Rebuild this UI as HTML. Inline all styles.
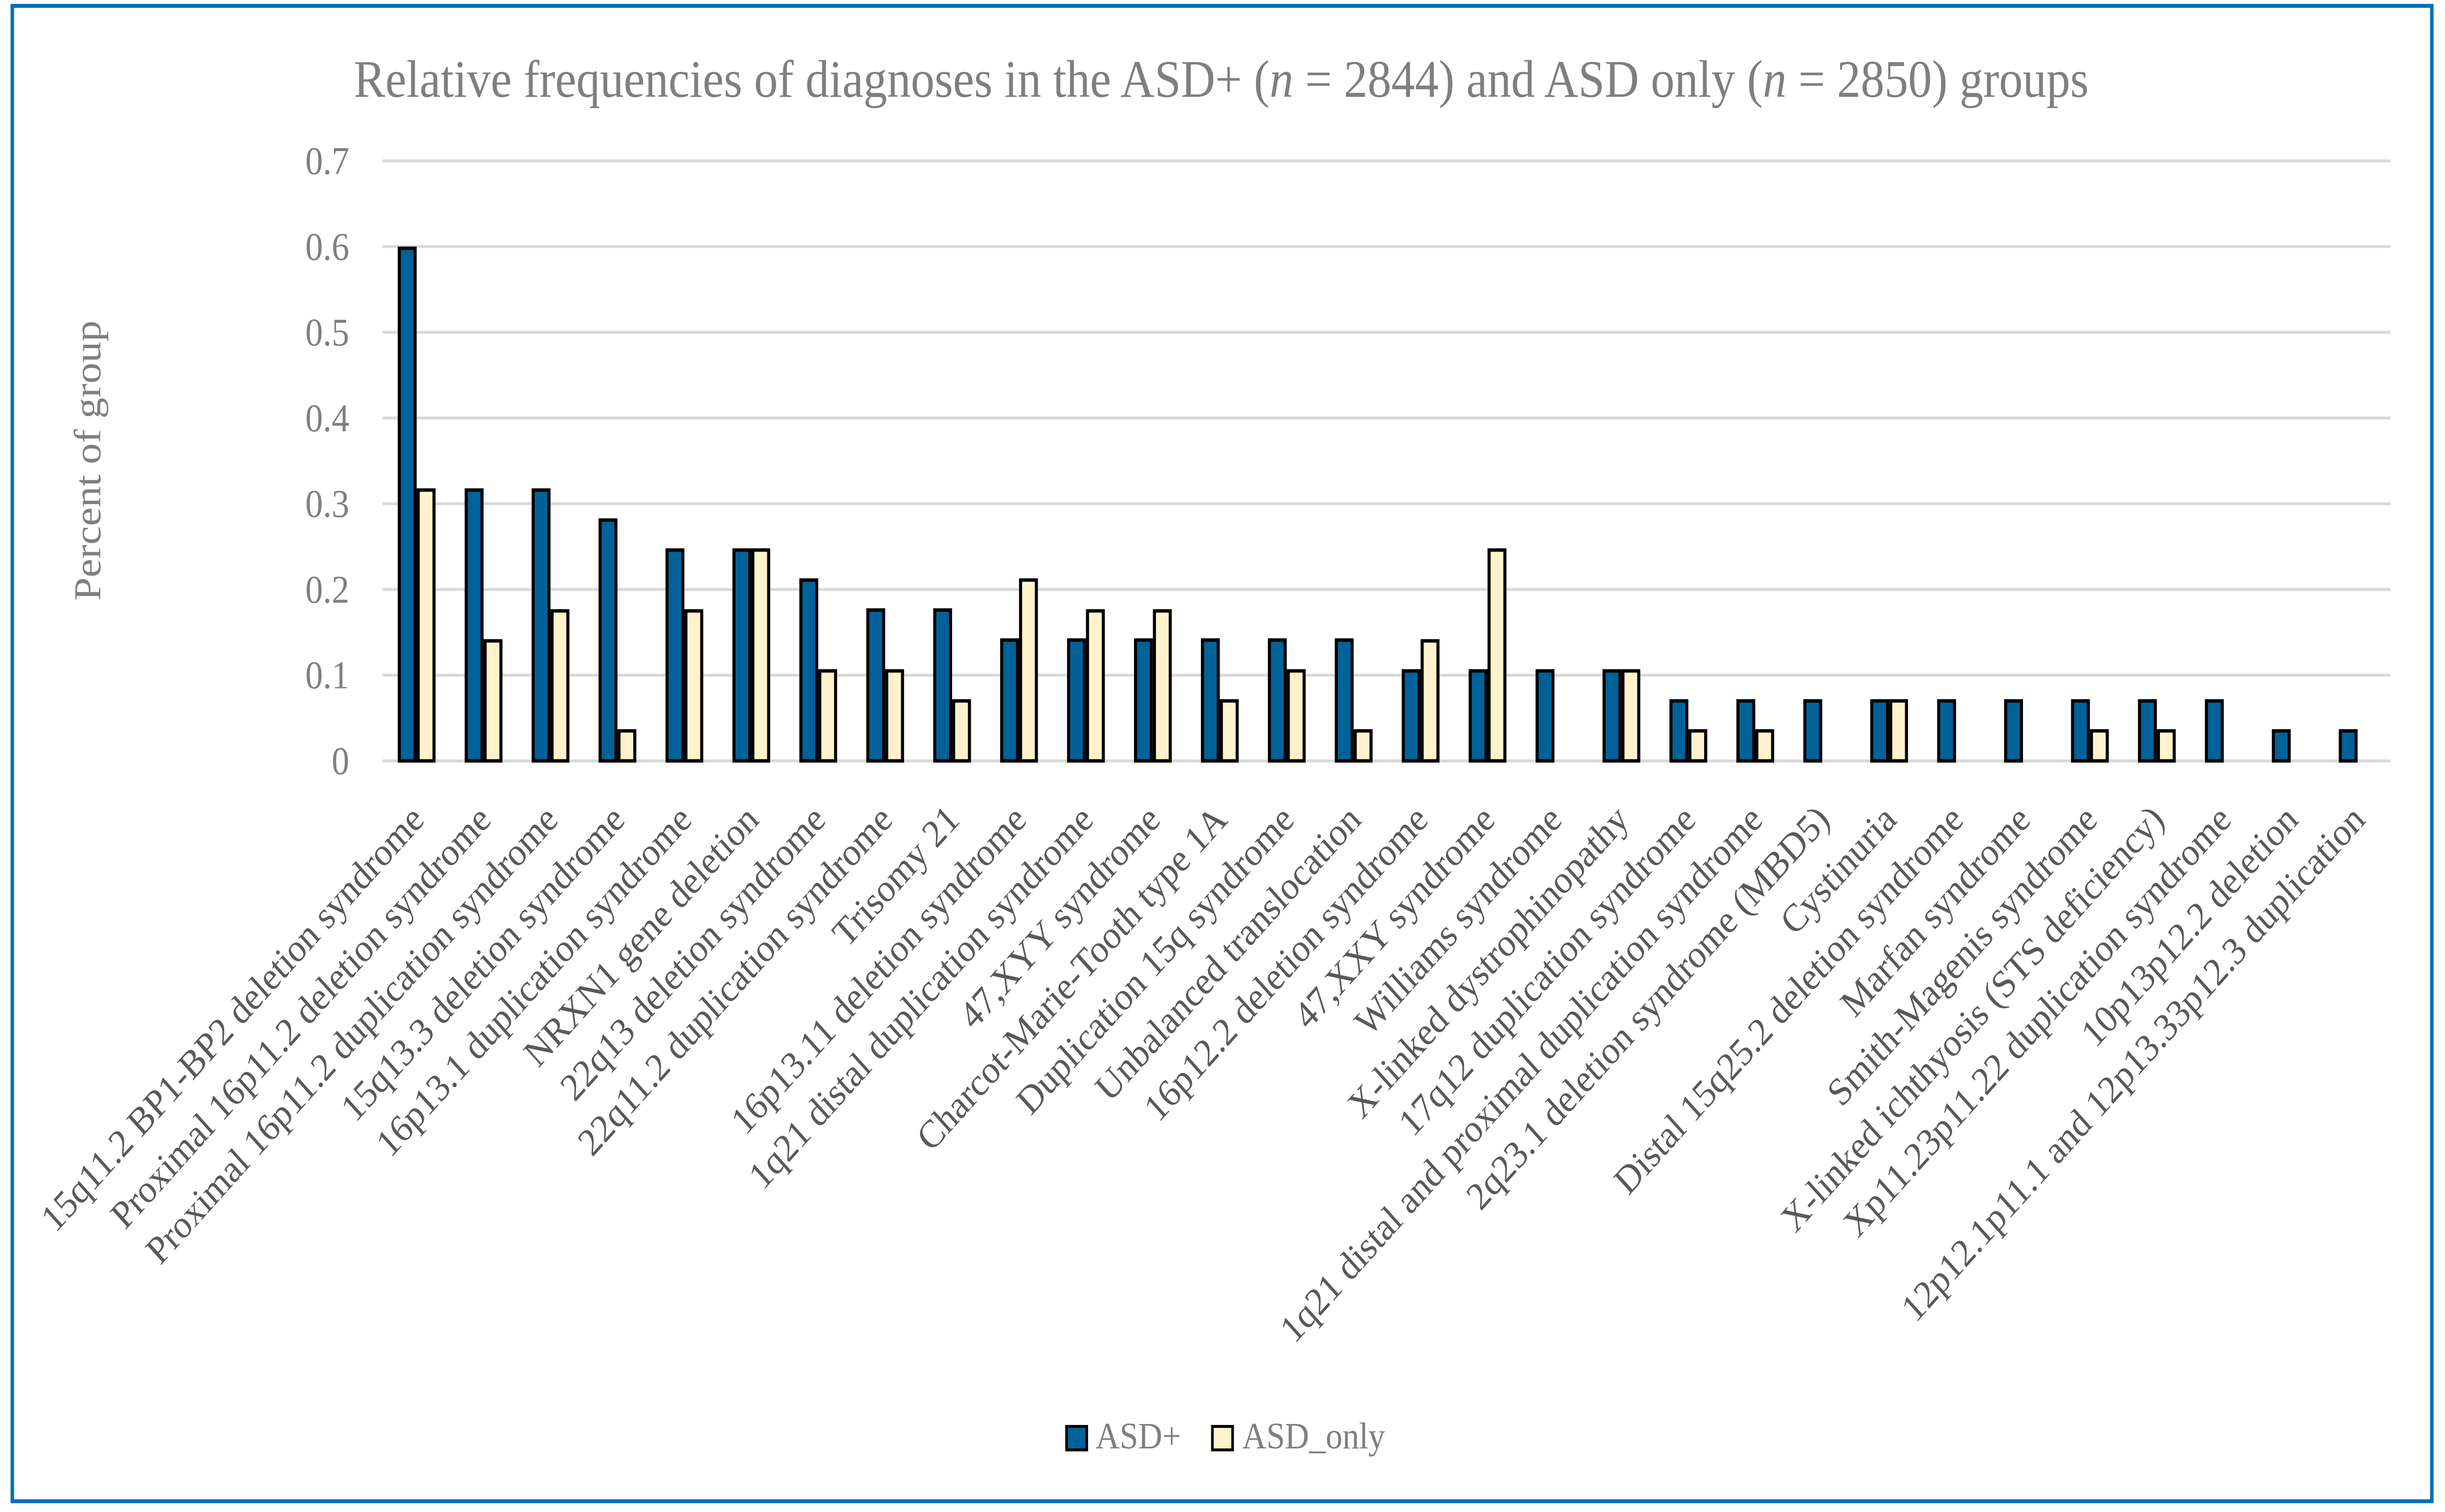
<!DOCTYPE html>
<html><head><meta charset="utf-8"><style>
html,body{margin:0;padding:0;background:#fff;width:100vw;height:100vh;overflow:hidden}
svg{display:block;width:100vw;height:100vh}
text{font-family:"Liberation Serif",serif}
</style></head><body>
<svg id="chart" viewBox="0 0 5566 3092" preserveAspectRatio="none" xmlns="http://www.w3.org/2000/svg">
<rect x="28" y="12" width="5508" height="3058" fill="#fff" stroke="#0070B8" stroke-width="8"/>
<text x="2780" y="198" font-size="108" fill="#7f7f7f" text-anchor="middle">Relative frequencies of diagnoses in the ASD+ (<tspan font-style="italic">n</tspan> = 2844) and ASD only (<tspan font-style="italic">n</tspan> = 2850) groups</text>
<text transform="translate(228,942) rotate(-90)" font-size="86" fill="#7f7f7f" text-anchor="middle">Percent of group</text>
<g id="grid"></g><g id="bars"></g><g id="labels"></g>
<g>
<rect x="2428" y="2917" width="46" height="48" fill="#006298" stroke="#000" stroke-width="6"/>
<text x="2494" y="2962" font-size="76" fill="#7f7f7f">ASD+</text>
<rect x="2760" y="2917" width="46" height="48" fill="#FFF2CC" stroke="#000" stroke-width="6"/>
<text x="2828" y="2962" font-size="76" fill="#7f7f7f">ASD_only</text>
</g>
</svg>
<script>
const categories = ["15q11.2 BP1-BP2 deletion syndrome","Proximal 16p11.2 deletion syndrome","Proximal 16p11.2 duplication syndrome","15q13.3 deletion syndrome","16p13.1 duplication syndrome","NRXN1 gene deletion","22q13 deletion syndrome","22q11.2 duplication syndrome","Trisomy 21","16p13.11 deletion syndrome","1q21 distal duplication syndrome","47,XYY syndrome","Charcot-Marie-Tooth type 1A","Duplication 15q syndrome","Unbalanced translocation","16p12.2 deletion syndrome","47,XXY syndrome","Williams syndrome","X-linked dystrophinopathy","17q12 duplication syndrome","1q21 distal and proximal duplication syndrome","2q23.1 deletion syndrome (MBD5)","Cystinuria","Distal 15q25.2 deletion syndrome","Marfan syndrome","Smith-Magenis syndrome","X-linked ichthyosis (STS deficiency)","Xp11.23p11.22 duplication syndrome","10p13p12.2 deletion","12p12.1p11.1 and 12p13.33p12.3 duplication"];
const asdPlus = [0.598,0.316,0.316,0.281,0.246,0.246,0.211,0.176,0.176,0.141,0.141,0.141,0.141,0.141,0.141,0.105,0.105,0.105,0.105,0.070,0.070,0.070,0.070,0.070,0.070,0.070,0.070,0.070,0.035,0.035];
const asdOnly = [0.316,0.140,0.175,0.035,0.175,0.246,0.105,0.105,0.070,0.211,0.175,0.175,0.070,0.105,0.035,0.140,0.246,0,0.105,0.035,0.035,0,0.070,0,0,0.035,0.035,0,0,0];
const yTicks = ["0","0.1","0.2","0.3","0.4","0.5","0.6","0.7"];

const NS="http://www.w3.org/2000/svg";
const L=871,R=5442,T=329,B=1556,YMAX=0.7;
const bw=(R-L)/categories.length;
function y(v){return B-(v/YMAX)*(B-T);}
function x(i){return L+i*bw;}
function mk(tag,attrs,parent){const e=document.createElementNS(NS,tag);for(const k in attrs)e.setAttribute(k,attrs[k]);parent.appendChild(e);return e;}
const grid=document.getElementById('grid'),bars=document.getElementById('bars'),labels=document.getElementById('labels');
yTicks.forEach(t=>{
  const v=parseFloat(t);
  const ln=mk('line',{x1:L,x2:R,y1:y(v),y2:y(v),stroke:'#d9d9d9','stroke-width':6},grid);
  
  
  const tx=mk('text',{x:795,y:y(v)+27,'font-size':80,fill:'#7f7f7f','text-anchor':'end'},grid);
  tx.textContent=t;
  
  
});
const barW=36;
categories.forEach((c,i)=>{
  const a=asdPlus[i],b=asdOnly[i];
  if(a>0){
    const r=mk('rect',{x:x(i)+38,y:y(a),width:barW,height:B-y(a),fill:'#006298',stroke:'#000','stroke-width':7},bars);
    
    
  }
  if(b>0){
    const r=mk('rect',{x:x(i)+81,y:y(b),width:barW,height:B-y(b),fill:'#FFF2CC',stroke:'#000','stroke-width':7},bars);
    
    
  }
  const cx=x(i)+bw/2+22, cy=1680;
  const t=mk('text',{x:cx,y:cy,'font-size':80,fill:'#595959','text-anchor':'end',transform:`rotate(-45 ${cx} ${cy})`},labels);
  t.textContent=c;
  
  
});
</script>
</body></html>
